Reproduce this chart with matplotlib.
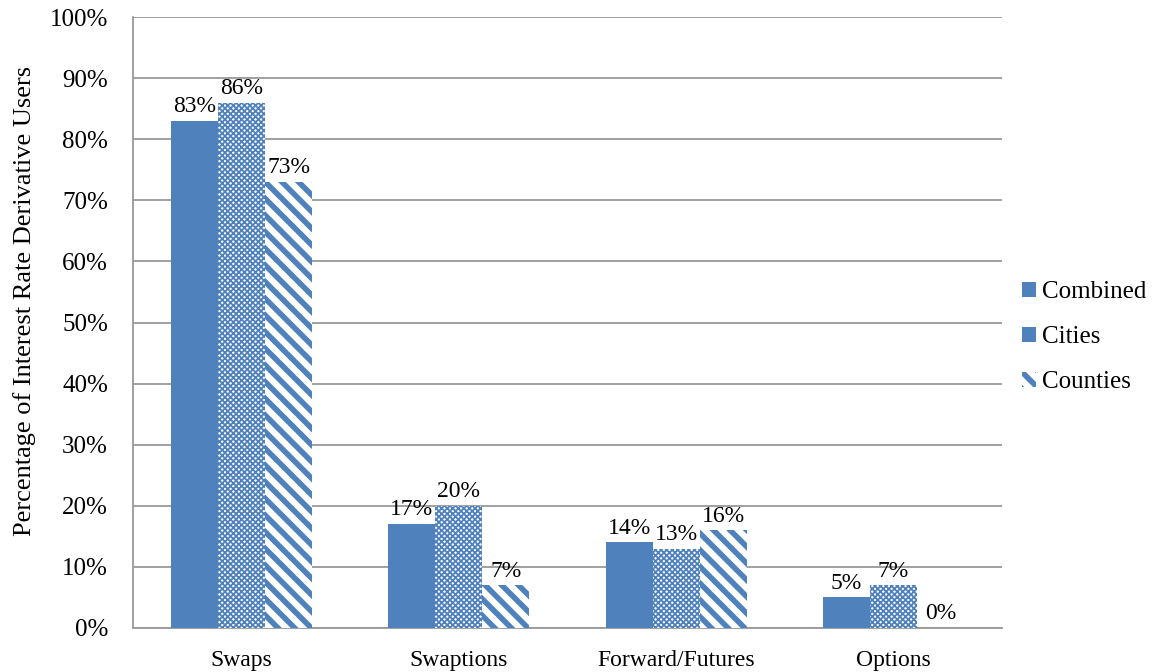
import matplotlib
matplotlib.use("Agg")
import matplotlib.pyplot as plt
import numpy as np

categories = ["Swaps", "Swaptions", "Forward/Futures", "Options"]
series_names = ["Combined", "Cities", "Counties"]
combined = [83, 17, 14, 5]
cities = [86, 20, 13, 7]
counties = [73, 7, 16, 0]
yticks = [0, 10, 20, 30, 40, 50, 60, 70, 80, 90, 100]

plt.rcParams['font.family'] = ['Liberation Serif', 'DejaVu Serif']
blue = '#4F81BD'
grid_c = '#999999'

fig = plt.figure(figsize=(11.6, 6.72), dpi=100)
ax = fig.add_axes([133/1160, 1-628/672, 869/1160, 611/672])

x = np.arange(len(categories))
w = 0.216
plt.rcParams['hatch.color'] = blue

plt.rcParams['hatch.linewidth'] = 0.0
b1 = ax.bar(x - w, combined, w, color=blue, linewidth=0, zorder=3, label=series_names[0])
plt.rcParams['hatch.linewidth'] = 1.3
b2 = ax.bar(x, cities, w, facecolor='white', edgecolor=blue, hatch='xxxxxx', linewidth=0, zorder=3, label=series_names[1])
plt.rcParams['hatch.linewidth'] = 4.0
b3 = ax.bar(x + w, counties, w, facecolor='white', edgecolor=blue, hatch='\\\\', linewidth=0, zorder=3, label=series_names[2])

for bars, vals in [(b1, combined), (b2, cities), (b3, counties)]:
    for rect, v in zip(bars, vals):
        ax.text(rect.get_x() + rect.get_width()/2, v + 0.6, f"{v}%", ha='center', va='bottom', fontsize=17, zorder=4)

ax.set_xlim(-0.5, len(categories) - 0.5)
ax.set_ylim(0, 100)
ax.set_yticks(yticks)
ax.set_yticklabels([f"{t}%" for t in yticks], fontsize=18)
ax.set_xticks(x)
ax.set_xticklabels(categories, fontsize=17)
ax.tick_params(axis='both', length=0)
ax.tick_params(axis='y', pad=18)
ax.tick_params(axis='x', pad=16)
ax.grid(axis='y', color=grid_c, linewidth=1.3, zorder=0)
ax.set_axisbelow(True)
for s in ['top', 'right']:
    ax.spines[s].set_visible(False)
for s in ['bottom', 'left']:
    ax.spines[s].set_color(grid_c)
    ax.spines[s].set_linewidth(1.3)
ax.set_ylabel("Percentage of Interest Rate Derivative Users", fontsize=19)
ax.yaxis.set_label_coords(-0.112, 0.535)

leg = fig.legend(handles=[b1, b2, b3], labels=series_names, loc='center left',
                 bbox_to_anchor=(1022/1160, 1-337/672), frameon=False, fontsize=18,
                 handlelength=0.56, handleheight=0.56, handletextpad=0.24, labelspacing=0.92,
                 borderaxespad=0, borderpad=0)

fig.savefig("out.png", dpi=100)
